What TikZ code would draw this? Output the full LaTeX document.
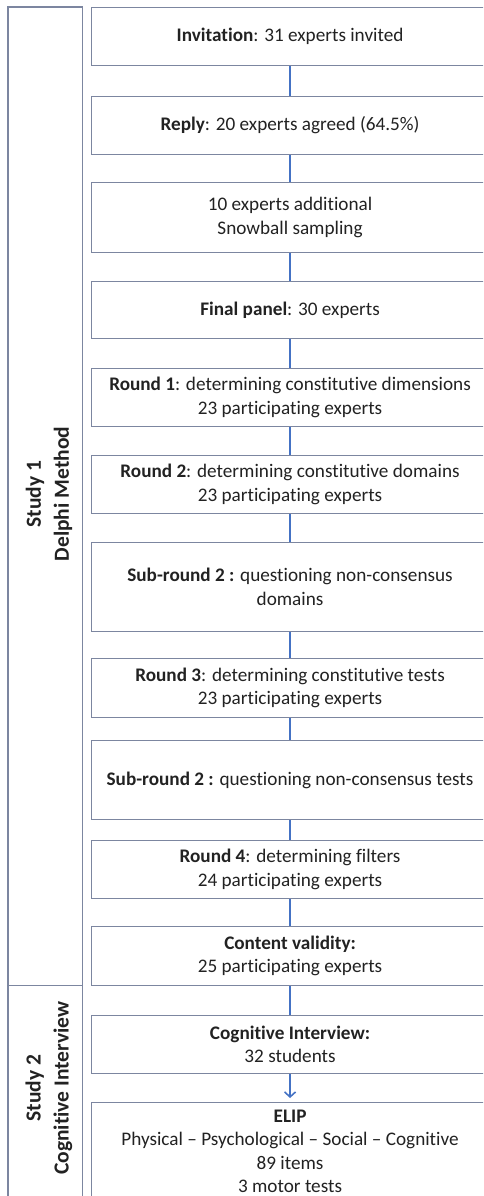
\documentclass[tikz,border=0pt]{standalone}
\usepackage{fontspec}
\setmainfont{Carlito}[Ligatures=NoCommon]
\usetikzlibrary{arrows.meta}
\definecolor{boxline}{HTML}{7C86A0}
\definecolor{conn}{HTML}{4472C4}
\definecolor{txt}{HTML}{222222}
\tikzset{
  stagebox/.style={draw=boxline, line width=1.1pt, fill=white, anchor=north west,
    minimum width=397pt, align=center, text=txt, inner sep=2pt,
    font=\fontsize{19.2}{23.5}\selectfont},
  sidebox/.style={draw=boxline, line width=1.1pt},
  sidelabel/.style={rotate=90, align=center, text=txt,
    font=\fontsize{21.5}{28}\selectfont\bfseries},
  link/.style={draw=conn, line width=1.6pt},
}
\begin{document}
\begin{tikzpicture}[x=1pt,y=-1pt]
\useasboundingbox (0,0) rectangle (483,1196);
\clip (0,0) rectangle (483,1196);
% side column
\draw[sidebox] (8,7) rectangle (82.5,985.5);
\draw[sidebox] (8,985.5) rectangle (82.5,1230);
\node[sidelabel] (s1) at (49,494) {Study 1\\Delphi Method};
\node[sidelabel] (s2) at (49,1088) {Study 2\\Cognitive Interview};
% stages
\node[stagebox, minimum height=58pt] (b1) at (91,7) {\textbf{Invitation}: 31 experts invited};
\node[stagebox, minimum height=58pt] (b2) at (91,96) {\textbf{Reply}: 20 experts agreed (64.5\%)};
\node[stagebox, minimum height=70pt] (b3) at (91,182) {10 experts additional\\Snowball sampling};
\node[stagebox, minimum height=57pt] (b4) at (91,281) {\textbf{Final panel}: 30 experts};
\node[stagebox, minimum height=58pt] (b5) at (91,368) {\textbf{Round 1}: determining constitutive dimensions\\23 participating experts};
\node[stagebox, minimum height=58pt] (b6) at (91,455) {\textbf{Round 2}: determining constitutive domains\\23 participating experts};
\node[stagebox, minimum height=89pt] (b7) at (91,542) {\textbf{Sub-round 2 :} questioning non-consensus\\domains};
\node[stagebox, minimum height=59pt] (b8) at (91,658) {\textbf{Round 3}: determining constitutive tests\\23 participating experts};
\node[stagebox, minimum height=79pt] (b9) at (91,740) {\textbf{Sub-round 2 :} questioning non-consensus tests};
\node[stagebox, minimum height=58pt] (b10) at (91,840) {\textbf{Round 4}: determining filters\\24 participating experts};
\node[stagebox, minimum height=59pt] (b11) at (91,926) {\textbf{Content validity:}\\25 participating experts};
\node[stagebox, minimum height=58pt] (b12) at (91,1015) {\textbf{Cognitive Interview:}\\32 students};
\node[stagebox, minimum height=98pt] (b13) at (91,1102) {\textbf{ELIP}\\Physical -- Psychological -- Social -- Cognitive\\89 items\\3 motor tests};
% connectors
\foreach \a/\b in {b1/b2,b2/b3,b3/b4,b4/b5,b5/b6,b6/b7,b7/b8,b8/b9,b9/b10,b10/b11,b11/b12}
  \draw[link] (\a.south) -- (\b.north);
\draw[link, -{Straight Barb[length=5pt,width=11pt,line width=1.6pt]}, shorten >=4pt] (b12.south) -- (b13.north);
\end{tikzpicture}
\end{document}
